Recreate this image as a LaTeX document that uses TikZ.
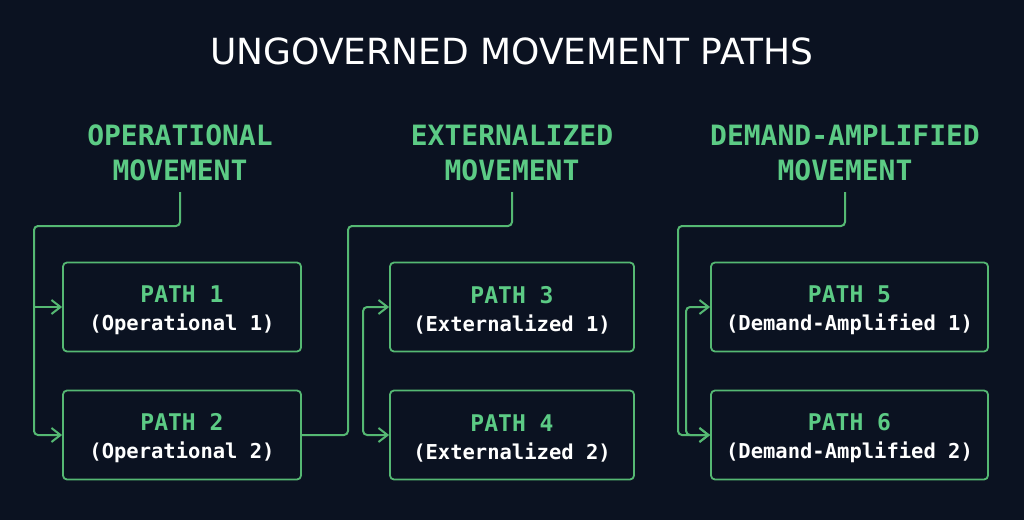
\documentclass[tikz,border=0pt]{standalone}
\usepackage{fontspec}
\setmainfont{DejaVu Sans}
\newfontfamily\monof{DejaVu Sans Mono}
\usetikzlibrary{arrows.meta}
\definecolor{bg}{HTML}{0B1221}
\definecolor{gline}{HTML}{55B873}
\definecolor{gtext}{HTML}{5CCB85}
\tikzset{
  x=1pt, y=-1pt,
  titlestyle/.style={text=white, font=\fontsize{36}{40}\selectfont, inner sep=0},
  headstyle/.style={text=gtext, font=\monof\bfseries\fontsize{28}{35}\selectfont, align=center, inner sep=0, outer ysep=11pt},
  boxstyle/.style={draw=gline, line width=1.8pt, rounded corners=4pt, text=white, align=center, minimum height=89pt, inner sep=0, font=\monof\bfseries\fontsize{20.5}{28}\selectfont},
  conn/.style={draw=gline, line width=2pt, rounded corners=4pt},
  arr/.style={conn, -{Straight Barb[length=9pt, width=14pt]}},
  arr2/.style={conn, {Straight Barb[length=9pt, width=14pt]}-{Straight Barb[length=9pt, width=14pt]}},
}
\newcommand{\pth}[1]{{\color{gtext}\fontsize{23}{28}\selectfont\rule{0pt}{24pt}#1}}
\begin{document}
\begin{tikzpicture}
\fill[bg] (0,0) rectangle (1024,520);
\useasboundingbox (0,0) rectangle (1024,520);
\node[titlestyle] (title) at (512,51.5) {UNGOVERNED MOVEMENT PATHS};
\node[headstyle, anchor=south] (h1) at (180,192) {OPERATIONAL\\MOVEMENT};
\node[headstyle, anchor=south] (h2) at (512,192) {EXTERNALIZED\\MOVEMENT};
\node[headstyle, anchor=south] (h3) at (845,192) {DEMAND-AMPLIFIED\\MOVEMENT};

\node[boxstyle, minimum width=238pt] (b1) at (182,307) {\pth{PATH 1}\\(Operational 1)};
\node[boxstyle, minimum width=238pt] (b2) at (182,435) {\pth{PATH 2}\\(Operational 2)};
\node[boxstyle, minimum width=244pt] (b3) at (512,307) {\pth{PATH 3}\\(Externalized 1)};
\node[boxstyle, minimum width=244pt] (b4) at (512,435) {\pth{PATH 4}\\(Externalized 2)};
\node[boxstyle, minimum width=277pt] (b5) at (849.5,307) {\pth{PATH 5}\\(Demand-Amplified 1)};
\node[boxstyle, minimum width=277pt] (b6) at (849.5,435) {\pth{PATH 6}\\(Demand-Amplified 2)};

\coordinate (c1) at (34,226);
\coordinate (c2) at (348,226);
\coordinate (c3) at (678,226);

\draw[arr] (h1.south) |- (c1) |- (b2.west);
\draw[arr] (c1 |- b1.west) -- (b1.west);
\draw[conn] (b2.east) -| (c2) -| (h2.south);
\draw[arr2] (b3.west) -- ++(-26,0) |- (b4.west);
\draw[arr] (h3.south) |- (c3) |- (b6.west);
\draw[arr2] (b5.west) -- ++(-24,0) |- (b6.west);
\end{tikzpicture}
\end{document}
